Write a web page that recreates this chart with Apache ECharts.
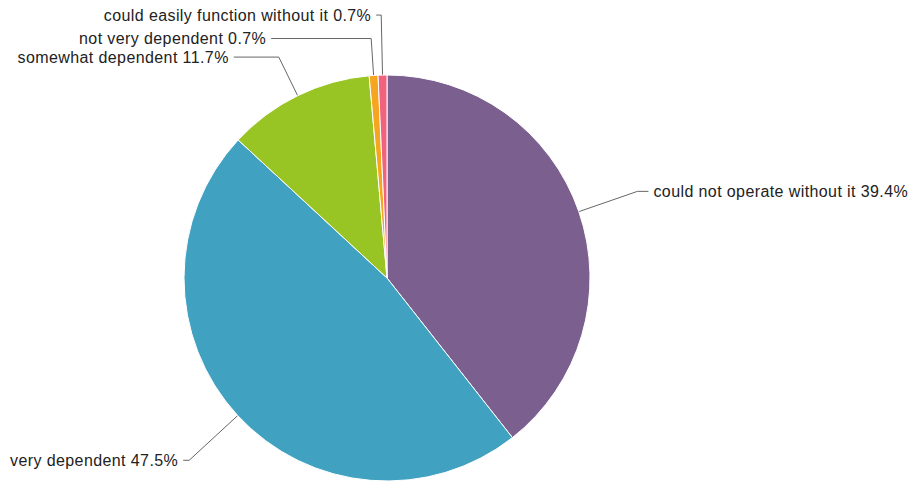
<!DOCTYPE html>
<html>
<head>
<meta charset="utf-8">
<script src="https://cdn.jsdelivr.net/npm/echarts@6/dist/echarts.min.js"></script>
<style>
  html, body { margin: 0; padding: 0; background: #fff; }
  #chart { width: 913px; height: 482px; letter-spacing: 0.4px; }
</style>
</head>
<body>
<div id="chart"></div>
<script>
// categories et valeurs (%)
var categories = [
    'could not operate without it',
    'very dependent',
    'somewhat dependent',
    'not very dependent',
    'could easily function without it'
];
var values = [39.4, 47.5, 11.7, 0.7, 0.7];
var colors = ['#7b5f8f', '#41a1c1', '#99c524', '#f5a51f', '#f0627d'];

// longueur des traits de légende (segment radial, segment horizontal) par part
var lineLen = [62, 66, 43, 37, 60];
var lineLen2 = [11, 6, 45, 100, 5];

var chart = echarts.init(document.getElementById('chart'), null, { renderer: 'svg' });
chart.setOption({
    animation: false,
    color: colors,
    series: [{
        type: 'pie',
        center: [387, 278],
        radius: 203,
        startAngle: 90,
        clockwise: true,
        data: categories.map(function (name, i) {
            return {
                name: name,
                value: values[i],
                labelLine: { length: lineLen[i], length2: lineLen2[i] }
            };
        }),
        itemStyle: { borderColor: '#fff', borderWidth: 1 },
        label: {
            show: true,
            position: 'outside',
            fontFamily: 'Liberation Sans',
            fontSize: 16,
            color: '#222',
            distanceToLabelLine: 5,
            formatter: function (p) {
                return p.name + ' ' + p.value.toFixed(1) + '%';
            }
        },
        labelLine: {
            show: true,
            lineStyle: { color: '#666', width: 1 }
        }
    }]
});
</script>
</body>
</html>
